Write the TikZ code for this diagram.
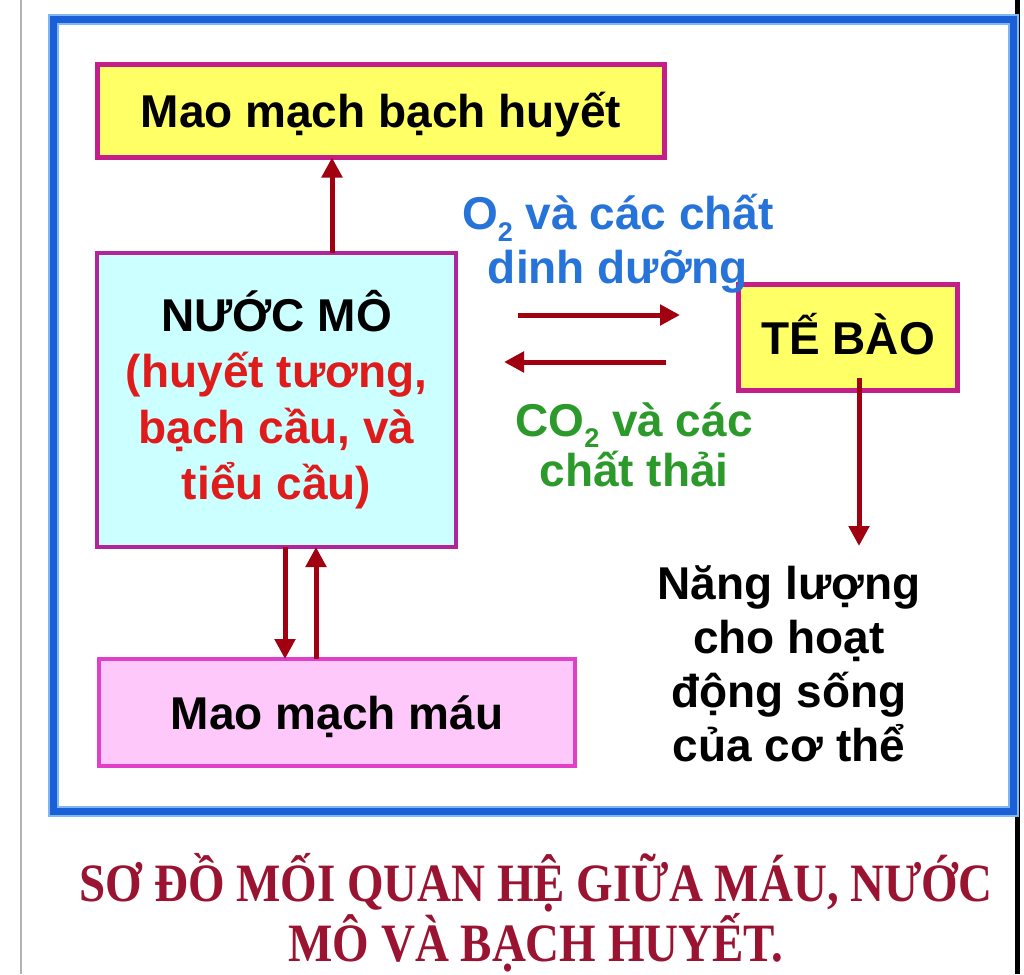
\documentclass[tikz,border=0pt]{standalone}
\usepackage{fontspec}
\setmainfont{Liberation Sans}
\newfontfamily\titlefont{Liberation Serif}[FakeStretch=0.87]
\usetikzlibrary{arrows.meta}
\definecolor{arrred}{RGB}{160,0,16}
\definecolor{yel}{RGB}{255,255,102}
\definecolor{cyanf}{RGB}{204,255,255}
\definecolor{pinkf}{RGB}{255,200,250}
\definecolor{magA}{RGB}{196,30,138}
\definecolor{magB}{RGB}{176,37,155}
\definecolor{magC}{RGB}{224,64,200}
\definecolor{nred}{RGB}{224,27,27}
\definecolor{nblue}{RGB}{38,115,217}
\definecolor{ngreen}{RGB}{43,154,43}
\definecolor{ttl}{RGB}{154,20,50}
\definecolor{fdark}{RGB}{26,95,216}
\definecolor{flight}{RGB}{127,184,240}
\begin{document}
\begin{tikzpicture}[x=1pt,y=-1pt,
  every node/.style={inner sep=0pt, outer sep=0pt},
  txt/.style={font=\bfseries\fontsize{46}{56}\selectfont},
  boxnode/.style={txt, draw, line width=4pt},
  oneline/.style={text height=33pt, text depth=0pt},
  arr/.style={draw=arrred, line width=5pt, -{Triangle[length=20pt,width=20pt]}}]
\useasboundingbox (0,0) rectangle (1024,974);
\fill[white] (0,0) rectangle (1024,974);
% edge lines
\draw[gray!60, line width=2pt] (21,0) -- (21,974);
\draw[black, line width=5pt] (1017.5,0) -- (1017.5,974);
% frame
\draw[flight, line width=11pt] (53.5,19.5) rectangle (1013.5,811.5);
\draw[fdark, line width=7pt] (53.5,19.5) rectangle (1013.5,811.5);
% boxes
\node[boxnode, oneline, fill=yel, draw=magA, line width=5pt, minimum width=567pt, minimum height=93pt] (mbh) at (381,111) {Mao mạch bạch huyết};
\node[boxnode, fill=cyanf, draw=magB, minimum width=359pt, minimum height=294pt, align=center] (nm) at (276.5,400) {NƯỚC MÔ\\ \textcolor{nred}{(huyết tương,}\\ \textcolor{nred}{bạch cầu, và}\\ \textcolor{nred}{tiểu cầu)}};
\node[boxnode, oneline, fill=pinkf, draw=magC, minimum width=476pt, minimum height=107pt] (mm) at (337,712.5) {Mao mạch máu};
\node[boxnode, oneline, fill=yel, draw=magA, line width=5pt, minimum width=219pt, minimum height=106pt] (tb) at (848,337.5) {TẾ BÀO};
% labels
\node[txt, nblue, align=center] (o2) at (618,244) {O\raisebox{-12pt}{\fontsize{27}{27}\selectfont 2} và các chất\\[-2pt] dinh dưỡng};
\node[txt, ngreen, align=center, font=\bfseries\fontsize{46}{50}\selectfont] (co2) at (634,445) {CO\raisebox{-11pt}{\fontsize{27}{27}\selectfont 2} và các\\ chất thải};
\node[txt, align=center, font=\bfseries\fontsize{46}{54}\selectfont] (nl) at (789,664) {Năng lượng\\ cho hoạt\\ động sống\\ của cơ thể};
\node[ttl, align=center, font=\titlefont\bfseries\fontsize{54}{52}\selectfont] (title) at (536,913) {SƠ ĐỒ MỐI QUAN HỆ GIỮA MÁU, NƯỚC\\ MÔ VÀ BẠCH HUYẾT.};
% connectors
\coordinate (xa) at (332,0);
\coordinate (xb) at (285,0);
\coordinate (xc) at (316,0);
\draw[arr] (xa |- nm.north) -- (xa |- mbh.south);
\draw[arr] (xb |- nm.south) -- (xb |- mm.north);
\draw[arr] (xc |- mm.north) -- (xc |- nm.south);
\coordinate (ra1) at (518,315);
\coordinate (ra2) at (680,315);
\coordinate (la1) at (666,362);
\coordinate (la2) at (504,362);
\draw[arr] (ra1) -- (ra2);
\draw[arr] (la1) -- (la2);
\coordinate (tbs) at (859,378);
\coordinate (nlt) at (859,546);
\draw[arr] (tbs) -- (nlt);
\end{tikzpicture}
\end{document}
